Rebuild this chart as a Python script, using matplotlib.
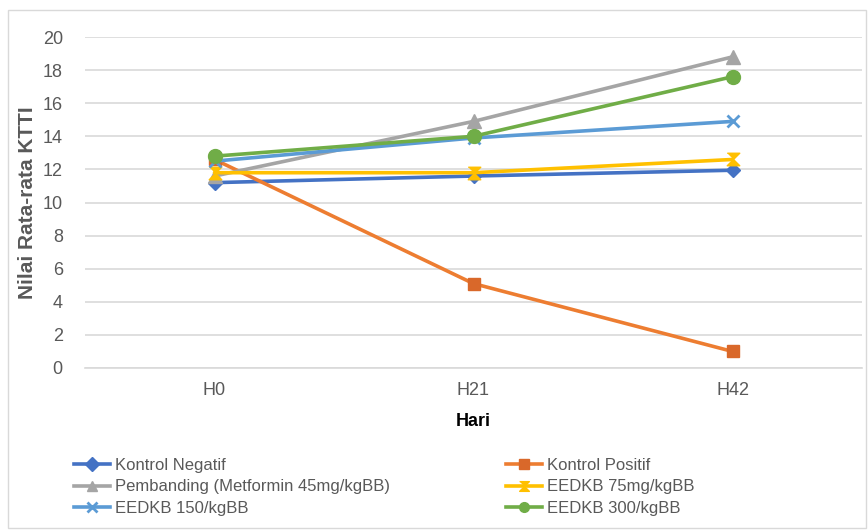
import matplotlib
matplotlib.use("Agg")
import matplotlib.pyplot as plt
from matplotlib.patches import Rectangle
from matplotlib.lines import Line2D

plt.rcParams['font.family'] = ['Liberation Sans', 'DejaVu Sans']

categories = ["H0", "H21", "H42"]
kontrol_negatif = [11.2, 11.6, 11.95]
kontrol_positif = [12.6, 5.1, 1.0]
pembanding = [11.6, 14.9, 18.8]
eedkb_75 = [11.8, 11.8, 12.6]
eedkb_150 = [12.5, 13.9, 14.9]
eedkb_300 = [12.8, 14.0, 17.6]
y_ticks = [0, 2, 4, 6, 8, 10, 12, 14, 16, 18, 20]

hourglass = [(-1, 1), (1, 1), (0, 0), (1, -1), (-1, -1), (0, 0)]

series = [
    ("Kontrol Negatif", kontrol_negatif, "#4472C4", "D", 7),
    ("Kontrol Positif", kontrol_positif, "#ED7D31", "s", 9),
    ("Pembanding (Metformin 45mg/kgBB)", pembanding, "#A5A5A5", "^", 10),
    ("EEDKB 75mg/kgBB", eedkb_75, "#FFC000", hourglass, 9),
    ("EEDKB 150/kgBB", eedkb_150, "#5B9BD5", "x", 9),
    ("EEDKB 300/kgBB", eedkb_300, "#70AD47", "o", 10),
]
marker_colors = {"Kontrol Positif": "#D9682A"}

fig = plt.figure(figsize=(8.68, 5.30), dpi=100)
fig.patches.append(Rectangle((8 / 868, 2 / 530), 858 / 868, 518 / 530,
                             transform=fig.transFigure, fill=False,
                             edgecolor="#D9D9D9", linewidth=1))
ax = fig.add_axes([85 / 868, (530 - 368) / 530, 777 / 868, 331 / 530])

x = list(range(len(categories)))
handles = {}
for name, vals, col, mk, ms in series:
    mc = marker_colors.get(name, col)
    mew = 2 if mk == "x" else 1
    h, = ax.plot(x, vals, color=col, linewidth=2.6, marker=mk, markersize=ms,
                 markerfacecolor=mc, markeredgecolor=mc, markeredgewidth=mew,
                 label=name, solid_capstyle="round")
    handles[name] = h

ax.set_xlim(-0.5, 2.5)
ax.set_ylim(0, 20)
ax.set_yticks(y_ticks)
ax.set_xticks(x)
ax.set_xticklabels(categories)
ax.tick_params(axis="both", length=0, colors="#595959", labelsize=13)
ax.tick_params(axis="y", pad=16)
ax.tick_params(axis="x", pad=10)
ax.grid(axis="y", color="#D9D9D9", linewidth=1.2)
ax.set_axisbelow(True)
for s in ["top", "right", "left"]:
    ax.spines[s].set_visible(False)
ax.spines["bottom"].set_color("#D9D9D9")
ax.spines["bottom"].set_linewidth(1.2)

ax.set_ylabel("Nilai Rata-rata KTTI", fontsize=15, fontweight="bold",
              color="#595959", labelpad=4)
ax.set_xlabel("Hari", fontsize=13, fontweight="bold", color="#000000", labelpad=10)

def leg_handle(name):
    h = handles[name]
    return Line2D([], [], color=h.get_color(), linewidth=2.6, marker=h.get_marker(),
                  markersize=7, markerfacecolor=h.get_markerfacecolor(),
                  markeredgecolor=h.get_markeredgecolor(),
                  markeredgewidth=h.get_markeredgewidth())

col1 = ["Kontrol Negatif", "Pembanding (Metformin 45mg/kgBB)", "EEDKB 150/kgBB"]
col2 = ["Kontrol Positif", "EEDKB 75mg/kgBB", "EEDKB 300/kgBB"]
for names, xpos in [(col1, 67), (col2, 499)]:
    leg = fig.legend([leg_handle(n) for n in names], names, loc="upper left",
                     bbox_to_anchor=(xpos / 868, (530 - 451) / 530),
                     frameon=False, fontsize=12, handlelength=2.2,
                     handletextpad=0.3, labelspacing=0.4, borderaxespad=0)
    for t in leg.get_texts():
        t.set_color("#595959")

fig.savefig("out.png", dpi=100)
